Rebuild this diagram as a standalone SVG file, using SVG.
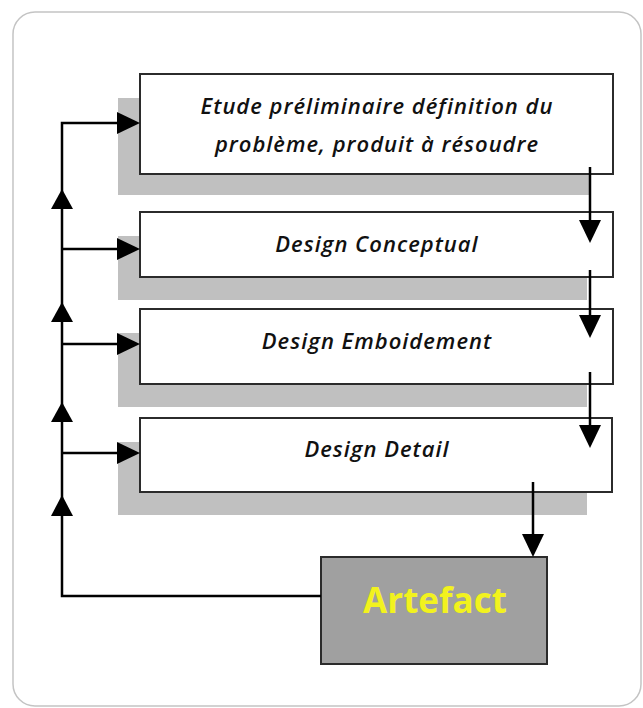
<svg xmlns="http://www.w3.org/2000/svg" width="643" height="708" viewBox="0 0 643 708">
<style>
.frame{fill:#ffffff;stroke:#c4c4c4;stroke-width:1.5}
.shadow{fill:#c0c0c0;stroke:none}
.box{fill:#ffffff;stroke:#2b2b2b;stroke-width:2}
.art{fill:#a0a0a0;stroke:#2b2b2b;stroke-width:2}
.lbl{font-family:"Open Sans","Noto Sans",sans-serif;font-style:italic;font-weight:600;font-size:22px;letter-spacing:1px;fill:#111;text-anchor:middle}
.artlbl{font-family:"Open Sans","Noto Sans",sans-serif;font-weight:700;font-size:35px;fill:#f2f21e;text-anchor:middle}
.ln{fill:none;stroke:#000;stroke-width:2.5}
.hd{fill:#000}
</style>
<rect class="frame" x="13" y="12" width="628" height="694" rx="22"/>
<g id="node-etude">
<rect class="shadow" x="118" y="98" width="471" height="97"/>
<rect class="box" x="140" y="74" width="473" height="100"/>
<text class="lbl" x="377" y="114">Etude préliminaire  définition du</text>
<text class="lbl" x="377" y="152">problème, produit à résoudre</text>
</g>
<g id="node-conceptual">
<rect class="shadow" x="118" y="236" width="469" height="64"/>
<rect class="box" x="140" y="212" width="473" height="65"/>
<text class="lbl" x="377" y="252">Design Conceptual</text>
</g>
<g id="node-emboidement">
<rect class="shadow" x="118" y="333" width="469" height="74"/>
<rect class="box" x="140" y="309" width="473" height="75"/>
<text class="lbl" x="377" y="349">Design Emboidement</text>
</g>
<g id="node-detail">
<rect class="shadow" x="118" y="442" width="469" height="73"/>
<rect class="box" x="140" y="418" width="472" height="74"/>
<text class="lbl" x="377" y="457">Design Detail</text>
</g>
<g id="node-artefact">
<rect class="art" x="321" y="557" width="226" height="107"/>
<text class="artlbl" x="435" y="613">Artefact</text>
</g>
<g id="connectors">
<path class="ln" d="M590 167 V222"/>
<polygon class="hd" points="579,220 601,220 590,243"/>
<path class="ln" d="M590 270 V317"/>
<polygon class="hd" points="579,315 601,315 590,338"/>
<path class="ln" d="M590 372 V427"/>
<polygon class="hd" points="579,425 601,425 590,448"/>
<path class="ln" d="M533 482 V536"/>
<polygon class="hd" points="522,534 544,534 533,557"/>
<path class="ln" d="M321 596 H62 V123 H119"/>
<polygon class="hd" points="117,112 117,134 140,123"/>
<path class="ln" d="M62 249 H119"/>
<polygon class="hd" points="117,238 117,260 140,249"/>
<path class="ln" d="M62 344 H119"/>
<polygon class="hd" points="117,333 117,355 140,344"/>
<path class="ln" d="M62 453 H119"/>
<polygon class="hd" points="117,442 117,464 140,453"/>
<polygon class="hd" points="51,209 73,209 62,189"/>
<polygon class="hd" points="51,322 73,322 62,302"/>
<polygon class="hd" points="51,422 73,422 62,402"/>
<polygon class="hd" points="51,516 73,516 62,495"/>
</g>
</svg>
